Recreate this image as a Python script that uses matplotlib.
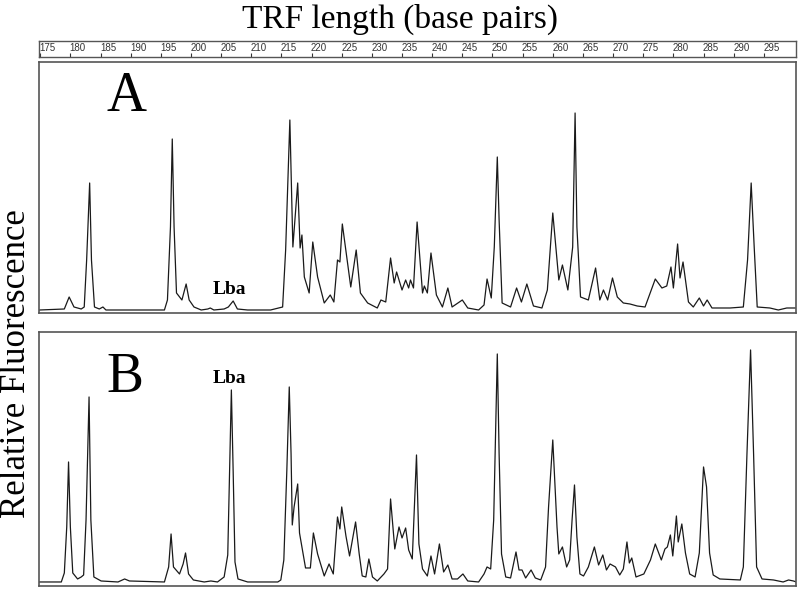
import matplotlib
matplotlib.use("Agg")
import matplotlib.pyplot as plt

# trace A: TRF length (bp) and relative fluorescence (arbitrary units)
a_bp = [174.9, 179.0, 179.8, 180.6, 181.8, 182.3, 182.7, 183.2, 183.5, 184.0,
        184.8, 185.4, 185.9, 195.6, 196.1, 196.6, 196.9, 197.2, 197.6, 198.5,
        199.2, 199.7, 200.5, 201.7, 202.8, 203.2, 203.8, 205.5, 206.2, 207.0,
        207.7, 209.4, 213.2, 215.2, 215.7, 216.4, 216.9, 217.7, 218.1, 218.4,
        218.8, 219.6, 220.2, 221.0, 222.1, 223.1, 223.7, 224.3, 224.7, 225.1,
        226.5, 227.4, 228.1, 229.3, 230.9, 231.5, 232.3, 233.1, 233.7, 234.1,
        235.0, 235.6, 236.1, 236.4, 236.9, 237.5, 238.4, 238.7, 239.2, 239.8,
        240.7, 241.7, 242.6, 243.3, 245.0, 245.9, 247.7, 248.6, 249.1, 249.8,
        250.3, 250.8, 251.1, 251.6, 253.0, 254.0, 254.8, 255.7, 256.8, 258.2,
        259.1, 260.0, 261.0, 261.6, 262.5, 263.3, 263.7, 264.0, 264.6, 265.9,
        267.1, 267.8, 268.4, 269.1, 269.9, 270.7, 271.7, 272.8, 274.0, 275.3,
        277.0, 278.1, 278.9, 279.6, 280.0, 280.7, 281.1, 281.6, 282.5, 283.3,
        284.3, 285.0, 285.6, 286.4, 289.4, 291.6, 292.3, 292.9, 293.4, 293.9,
        296.0, 297.4, 298.8, 300.2]
a_rfu = [0, 1, 13, 3, 1, 3, 50, 127, 50, 3,
         1, 3, 0, 0, 10, 83, 171, 83, 17, 10,
         26, 10, 3, 0, 1, 2, 0, 1, 3, 9,
         1, 0, 0, 3, 60, 190, 63, 127, 62, 75,
         33, 17, 68, 33, 7, 15, 8, 50, 48, 86,
         23, 60, 17, 7, 2, 10, 8, 52, 27, 38,
         20, 30, 22, 30, 22, 88, 17, 24, 17, 57,
         15, 3, 22, 3, 10, 2, 0, 5, 31, 12,
         63, 153, 90, 7, 3, 22, 8, 26, 4, 2,
         20, 97, 30, 45, 20, 63, 197, 83, 13, 10,
         42, 10, 20, 10, 32, 13, 7, 6, 4, 3,
         31, 22, 24, 43, 22, 66, 32, 48, 8, 3,
         12, 4, 10, 2, 2, 3, 50, 127, 63, 3,
         2, 0, 2, 2]

# trace B
b_bp = [174.9, 178.5, 179.0, 179.4, 179.7, 180.0, 180.4, 181.2, 181.8, 182.2,
        182.6, 183.1, 183.4, 183.9, 185.1, 187.9, 189.0, 189.8, 195.6, 196.3,
        196.7, 197.1, 198.1, 198.7, 199.1, 199.6, 200.4, 202.2, 203.3, 204.4,
        205.5, 206.1, 206.4, 206.7, 207.0, 207.3, 207.8, 209.4, 214.4, 214.9,
        215.4, 215.9, 216.3, 216.6, 216.8, 217.1, 217.7, 218.0, 218.4, 219.0,
        219.8, 220.3, 221.0, 222.1, 222.9, 223.6, 224.3, 224.7, 225.0, 225.7,
        226.3, 227.3, 227.9, 228.4, 229.0, 229.5, 230.1, 230.9, 232.0, 232.6,
        233.1, 233.8, 234.5, 235.0, 235.6, 236.1, 236.7, 237.4, 237.8, 238.4,
        239.2, 239.8, 240.4, 241.2, 241.9, 242.6, 243.3, 244.2, 245.1, 245.9,
        247.7, 248.6, 249.1, 249.7, 250.2, 250.8, 251.1, 251.5, 252.2, 253.0,
        253.9, 254.4, 254.9, 255.5, 256.4, 257.1, 258.0, 258.8, 259.3, 260.0,
        260.7, 261.0, 261.6, 262.3, 262.8, 263.2, 263.6, 264.0, 264.5, 265.1,
        265.9, 266.9, 267.6, 268.3, 268.9, 269.5, 270.4, 271.1, 271.7, 272.3,
        272.7, 273.1, 273.8, 275.1, 276.2, 277.0, 278.0, 278.6, 279.0, 279.5,
        279.9, 280.5, 280.8, 281.4, 282.0, 282.7, 283.6, 284.3, 285.0, 285.5,
        286.0, 286.6, 287.7, 291.1, 291.6, 292.2, 292.8, 293.3, 293.8, 294.7,
        296.6, 298.2, 299.1, 299.9, 300.4]
b_rfu = [0, 0, 9, 55, 120, 55, 9, 3, 5, 7,
         62, 185, 62, 5, 1, 0, 3, 1, 0, 15,
         48, 15, 8, 18, 29, 8, 2, 0, 1, 0,
         5, 27, 110, 192, 110, 20, 3, 0, 0, 2,
         22, 112, 195, 128, 57, 75, 98, 49, 35, 14,
         14, 49, 28, 6, 18, 8, 65, 53, 75, 46,
         26, 60, 28, 6, 5, 23, 5, 1, 8, 13,
         83, 33, 55, 44, 54, 32, 23, 127, 38, 13,
         6, 26, 8, 38, 10, 17, 3, 3, 8, 1,
         0, 8, 15, 13, 62, 228, 128, 28, 5, 4,
         30, 12, 12, 4, 12, 4, 2, 15, 75, 142,
         55, 28, 35, 15, 22, 62, 97, 45, 8, 6,
         15, 35, 17, 27, 12, 18, 15, 7, 13, 40,
         19, 24, 5, 8, 22, 38, 22, 33, 35, 47,
         26, 66, 40, 58, 29, 8, 5, 29, 115, 95,
         29, 7, 3, 2, 15, 128, 232, 128, 15, 3,
         2, 0, 2, 1, 0]

ruler_ticks = list(range(175, 300, 5))
x_range = (174.8, 300.3)

serif = "Liberation Serif"
frame_col = "#555555"
line_col = "#1a1a1a"

fig = plt.figure(figsize=(8, 5.91), dpi=100)

# ruler with base-pair scale
ruler = fig.add_axes([0.04875, 0.9036, 0.946, 0.027])
ruler.set_xlim(*x_range)
ruler.set_ylim(0, 1)
ruler.set_yticks([])
ruler.set_xticks(ruler_ticks)
ruler.set_xticklabels([])
ruler.tick_params(axis="x", direction="in", length=3, width=0.8, color="#333333")
for t in ruler_ticks:
    ruler.text(t - 0.1, 0.55, str(t), fontsize=7, ha="left", va="center",
               color="#333333", family="Liberation Sans")
for s in ruler.spines.values():
    s.set_color(frame_col)
    s.set_linewidth(1.0)

def panel(rect, bp, rfu, ylim):
    ax = fig.add_axes(rect)
    ax.plot(bp, rfu, color=line_col, lw=0.9)
    ax.set_xlim(*x_range)
    ax.set_ylim(*ylim)
    ax.set_xticks([])
    ax.set_yticks([])
    for s in ax.spines.values():
        s.set_color(frame_col)
        s.set_linewidth(1.2)
    return ax

ax_a = panel([0.04875, 0.4704, 0.946, 0.4247], a_bp, a_rfu, (-3, 248))
ax_b = panel([0.04875, 0.0085, 0.946, 0.4298], b_bp, b_rfu, (-4, 250))

ax_a.text(0.116, 0.86, "A", transform=ax_a.transAxes, fontsize=40,
          family=serif, ha="center", va="center")
ax_b.text(0.114, 0.82, "B", transform=ax_b.transAxes, fontsize=40,
          family=serif, ha="center", va="center")
ax_a.text(0.252, 0.095, "Lba", transform=ax_a.transAxes, fontsize=14,
          family=serif, weight="bold", ha="center", va="center")
ax_b.text(0.252, 0.815, "Lba", transform=ax_b.transAxes, fontsize=14,
          family=serif, weight="bold", ha="center", va="center")

fig.text(0.5, 0.968, "TRF length (base pairs)", fontsize=24, family=serif,
         ha="center", va="center")
fig.text(0.021, 0.384, "Relative Fluorescence", fontsize=25, family=serif,
         rotation=90, ha="center", va="center")

fig.savefig("out.png", dpi=100)
